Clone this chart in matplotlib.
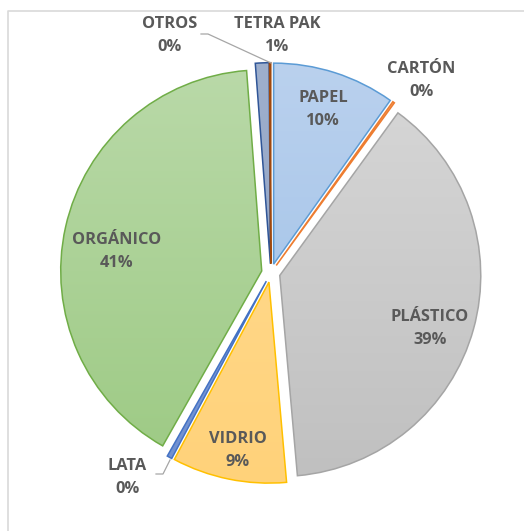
import numpy as np
import matplotlib
matplotlib.use("Agg")
import matplotlib.pyplot as plt
from matplotlib.colors import LinearSegmentedColormap

plt.rcParams['font.family'] = ['Open Sans', 'DejaVu Sans']

# composición de residuos, en orden horario desde las 12
categorias = ['PAPEL', 'CARTÓN', 'PLÁSTICO', 'VIDRIO', 'LATA', 'ORGÁNICO', 'TETRA PAK', 'OTROS']
valores = [9.85, 0.15, 38.6, 9.2, 0.4, 40.6, 1.1, 0.1]

# degradado (arriba, abajo) y borde de cada porción
color_arriba = ['#bad1ee', '#f4b183', '#d7d7d7', '#ffdc94', '#8faadc', '#b9d9a8', '#9eafcc', '#c55a11']
color_abajo = ['#9cbfe6', '#ed7d31', '#c0c0c0', '#ffd27a', '#6f8fd0', '#9dca84', '#8ea1c4', '#9e480e']
color_borde = ['#5b9bd5', '#ed7d31', '#a5a5a5', '#ffc000', '#4472c4', '#70ad47', '#2f5597', '#9e480e']

W, H = 524, 531
fig = plt.figure(figsize=(W / 100, H / 100), dpi=100)
ax = fig.add_axes([0, 0, 1, 1])

cx, cy = 270.8, H - 273
R = 201
# en ax.pie el desplazamiento va en unidades de datos (píxeles aquí)
wedges, _ = ax.pie(valores, explode=[9.3] * len(valores), startangle=90,
                   counterclock=False, radius=R, center=(cx, cy), frame=True,
                   wedgeprops=dict(linewidth=1.1, zorder=3))
ax.set_xlim(0, W)
ax.set_ylim(0, H)
ax.axis('off')

grad = np.linspace(0, 1, 256).reshape(-1, 1)
for w, c1, c2, ce in zip(wedges, color_arriba, color_abajo, color_borde):
    w.set_facecolor('none')
    w.set_edgecolor(ce)
    wx, wy = w.center
    cmap = LinearSegmentedColormap.from_list('g', [c1, c2])
    im = ax.imshow(grad, cmap=cmap, aspect='auto', origin='upper',
                   extent=(wx - R, wx + R, wy - R, wy + R), zorder=2)
    im.set_clip_path(w)

# etiquetas (nombre y porcentaje)
total = sum(valores)
pos_etiquetas = {
    'PAPEL': (323, 98),
    'CARTÓN': (421, 69),
    'PLÁSTICO': (430, 317),
    'VIDRIO': (238, 439),
    'LATA': (127, 466),
    'ORGÁNICO': (117, 240),
    'TETRA PAK': (277, 24),
    'OTROS': (170, 24),
}
for cat, v in zip(categorias, valores):
    x, y = pos_etiquetas[cat]
    ax.text(x, H - y, cat, ha='center', va='center', fontsize=11.8,
            fontweight='bold', color='#595959', zorder=5)
    ax.text(x, H - y - 23, f'{v / total * 100:.0f}%', ha='center', va='center',
            fontsize=11.8, fontweight='bold', color='#595959', zorder=5)

# líneas guía de las porciones pequeñas
ax.plot([201, 208, 271], [H - 34, H - 34, H - 63], color='#a6a6a6', lw=0.9, zorder=4)
ax.plot([156, 163, 170], [H - 474, H - 474, H - 460], color='#a6a6a6', lw=0.9, zorder=4)

# marco del área del gráfico
ax.plot([7.5, 7.5, W], [0, H - 10.5, H - 10.5], color='#d9d9d9', lw=1.2, zorder=1)

fig.savefig('out.png', dpi=100)
